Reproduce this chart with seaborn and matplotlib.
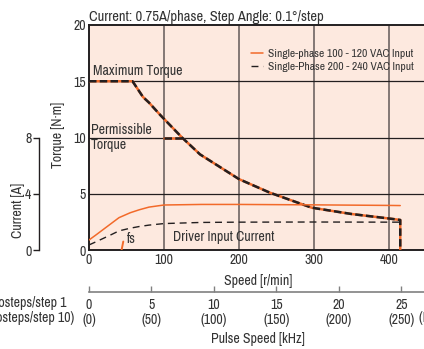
import numpy as np
import pandas as pd
import matplotlib
matplotlib.use("Agg")
import matplotlib.pyplot as plt
import seaborn as sns

# torque curve (both supply voltages give the same curve)
torque_speed = [0, 58, 65, 72, 80, 95, 124, 148, 200, 241, 297, 350, 400, 415, 415]
torque_vals = [15, 15, 14.3, 13.6, 13.1, 12.0, 10.0, 8.5, 6.3, 5.1, 3.76, 3.2, 2.8, 2.67, 0]

# permissible torque segment
perm_speed = [100, 124]
perm_vals = [10, 10]

# driver input current
cur_speed = [0, 10, 20, 30, 40, 55, 67, 80, 100, 150, 200, 300, 400, 415]
cur_100v = [0.71, 1.1, 1.5, 1.9, 2.3, 2.65, 2.86, 3.05, 3.2, 3.24, 3.24, 3.21, 3.17, 3.16]
cur_200v = [0.36, 0.6, 0.85, 1.1, 1.36, 1.55, 1.67, 1.77, 1.88, 1.96, 1.98, 1.99, 1.98, 1.98]

fs_speed = [42.7, 45.7]
fs_current = [-0.2, 0.6]

khz_ticks = [0, 5, 10, 15, 20, 25]
khz_labels = ["0\n(0)", "5\n(50)", "10\n(100)", "15\n(150)", "20\n(200)", "25\n(250)"]
legend_labels = ["Single-phase 100 - 120 VAC Input", "Single-Phase 200 - 240 VAC Input"]

orange = "#f26a2a"
dark = "#231f20"
txt = "#333333"
bg = "#fde9df"
fsz = 10

sns.set_style("ticks")
plt.rcParams["font.family"] = ["Archivo Narrow", "Liberation Sans", "DejaVu Sans"]
plt.rcParams["font.size"] = fsz
plt.rcParams["text.color"] = txt
plt.rcParams["axes.labelcolor"] = txt
plt.rcParams["xtick.color"] = txt
plt.rcParams["ytick.color"] = txt

W, H = 424, 349
fig = plt.figure(figsize=(W / 100, H / 100), dpi=100)
fig.patch.set_facecolor("white")

# axes: x 0..450 maps to px 89..426.5, y 0..20 maps to px 250..25
ax = fig.add_axes([89 / W, (H - 250) / H, 337.5 / W, 225 / H])
ax.set_facecolor(bg)
ax.set_xlim(0, 450)
ax.set_ylim(0, 20)
ax.set_xticks([0, 100, 200, 300, 400])
ax.set_yticks([0, 5, 10, 15, 20])
ax.tick_params(length=0, pad=2, labelsize=fsz)
for x in [100, 200, 300, 400]:
    ax.axvline(x, color="#7a6f6c", lw=1.3, zorder=1)
for y in [5, 10, 15]:
    ax.axhline(y, color=dark, lw=0.9, zorder=1)
for s in ["left", "bottom", "top"]:
    ax.spines[s].set_color(dark)
    ax.spines[s].set_linewidth(1.4)
ax.spines["right"].set_visible(False)

tq = pd.DataFrame({"speed": torque_speed, "torque": torque_vals})
pm = pd.DataFrame({"speed": perm_speed, "torque": perm_vals})
for d in [tq, pm]:
    sns.lineplot(data=d, x="speed", y="torque", ax=ax, color=orange, lw=1.8,
                 sort=False, estimator=None, zorder=3)
    sns.lineplot(data=d, x="speed", y="torque", ax=ax, color=dark, lw=1.8,
                 sort=False, estimator=None, zorder=4, linestyle=(0, (3, 1.3)))

ax.set_xlabel("Speed [r/min]", labelpad=5)
ax.set_ylabel("")
ax.set_title("Current: 0.75A/phase, Step Angle: 0.1°/step", loc="left", pad=3,
             fontsize=10.5, color=txt)

ax.text(5.3, 15.9, "Maximum Torque", va="center", ha="left")
ax.text(2.5, 10.0, "Permissible\nTorque", va="center", ha="left", linespacing=1.15)
ax.text(112, 1.16, "Driver Input Current", va="center", ha="left")
ax.text(51, 0.95, "fs", va="center", ha="left")

# current axis (4 A <-> 5 N.m)
ax2 = ax.twinx()
ax2.set_ylim(0, 16)
ax2.yaxis.set_ticks_position("left")
ax2.yaxis.set_label_position("left")
for s in ["right", "top", "bottom"]:
    ax2.spines[s].set_visible(False)
ax2.spines["left"].set_position(("axes", (39 - 89) / 337.5))
ax2.spines["left"].set_bounds(0, 8)
ax2.spines["left"].set_color(dark)
ax2.spines["left"].set_linewidth(1.0)
ax2.set_yticks([0, 4, 8])
ax2.tick_params(axis="y", length=4, width=1.0, pad=1.5, labelsize=fsz, color=dark)

c1 = pd.DataFrame({"speed": cur_speed, "cur": cur_100v})
c2 = pd.DataFrame({"speed": cur_speed, "cur": cur_200v})
sns.lineplot(data=c1, x="speed", y="cur", ax=ax2, color=orange, lw=1.1,
             sort=False, estimator=None, label=legend_labels[0])
sns.lineplot(data=c2, x="speed", y="cur", ax=ax2, color=dark, lw=1.0,
             sort=False, estimator=None, linestyle=(0, (5, 3.5)), label=legend_labels[1])
sns.lineplot(x=fs_speed, y=fs_current, ax=ax2, color=orange, lw=1.4,
             sort=False, estimator=None)
ax2.set_ylabel("")

leg = ax2.legend(loc="upper left", bbox_to_anchor=(0.462, 0.92), frameon=False,
                 fontsize=8.3, handlelength=1.1, handletextpad=0.4, borderpad=0,
                 labelspacing=0.3)
for t in leg.get_texts():
    t.set_color(txt)

# pulse speed axis: 1 kHz = 50/3 r/min at 0.1 deg/step
sec = ax.secondary_xaxis((250 - 292) / 225,
                         functions=(lambda r: r * 3 / 50, lambda k: k * 50 / 3))
sec.set_xticks(khz_ticks)
sec.set_xticklabels(khz_labels)
sec.spines["bottom"].set_color("#808080")
sec.spines["bottom"].set_linewidth(1.2)
sec.tick_params(direction="in", length=4, width=1.0, color="#808080", pad=4,
                labelsize=fsz)
for lab in sec.get_xticklabels():
    lab.set_linespacing(1.1)
sec.set_xlabel("Pulse Speed [kHz]", labelpad=4)

fig.text(18 / W, 1 - 210 / H, "Current [A]", rotation=90, va="center", ha="center")
fig.text(58 / W, 1 - 135 / H, "Torque [N·m]", rotation=90, va="center", ha="center")
fig.text(67 / W, 1 - 303 / H, "Microsteps/step 1", va="center", ha="right")
fig.text(74 / W, 1 - 318 / H, "(Microsteps/step 10)", va="center", ha="right")
fig.text(419 / W, 1 - 318 / H, "(Microsteps/step 10)", va="center", ha="left")

fig.savefig("out.png", dpi=100)
